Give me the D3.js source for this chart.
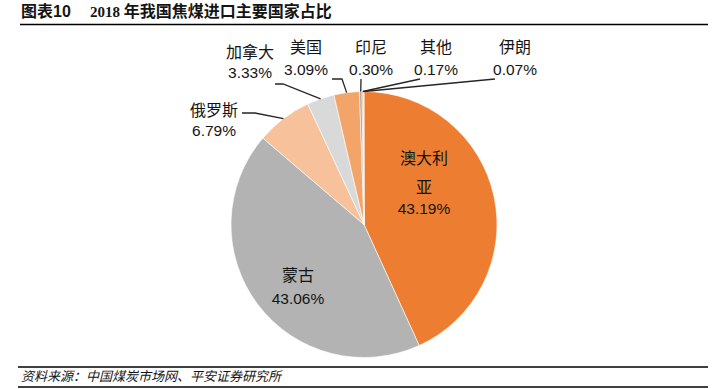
<!DOCTYPE html>
<html>
<head>
<meta charset="utf-8">
<script src="https://cdn.jsdelivr.net/npm/d3@7"></script>
<style>
  body { margin: 0; background: #fff; }
  text { font-family: "Liberation Sans", Arial, "Noto Sans CJK SC", sans-serif; fill: #141414; }
</style>
</head>
<body>
<svg></svg>
<script>
// Chart data, clockwise from 12 o'clock
let countries = ["澳大利亚", "蒙古", "俄罗斯", "加拿大", "美国", "印尼", "其他", "伊朗"];
let shares = [43.19, 43.06, 6.79, 3.33, 3.09, 0.30, 0.17, 0.07];
let sliceColors = ["#ED7D31", "#B3B3B3", "#F7C19B", "#D9D9D9", "#F2A469", "#A5A5A5", "#F4B183", "#BFBFBF"];

// Size of the SVG element
let width = 714,
    height = 389;

let cx = 364, cy = 224.5, radius = 133;

let svg = d3.select("svg")
    .attr("width", width)
    .attr("height", height);

// Title and rules
let title = svg.append("text")
    .attr("x", 21)
    .attr("y", 17)
    .style("font-weight", "bold")
    .style("font-size", "16px");
title.append("tspan").text("图表10");
title.append("tspan")
    .attr("x", 90)
    .style("font-family", "'Liberation Serif', 'Times New Roman', serif")
    .style("font-size", "15px")
    .text("2018 ");
title.append("tspan").text("年我国焦煤进口主要国家占比");

let rules = [24.5, 367, 387];
svg.selectAll("line.rule")
    .data(rules)
    .enter()
    .append("line")
    .attr("class", "rule")
    .attr("x1", (d, i) => i === 0 ? 20 : 18)
    .attr("x2", 708)
    .attr("y1", d => d)
    .attr("y2", d => d)
    .style("stroke", "#000")
    .style("stroke-width", 1.4);

svg.append("text")
    .attr("x", 21)
    .attr("y", 380.5)
    .style("font-size", "13px")
    .style("font-style", "italic")
    .text("资料来源：中国煤炭市场网、平安证券研究所");

// Pie
let pie = d3.pie()
    .sort(null)
    .value(d => d.value);

let arc = d3.arc()
    .innerRadius(0)
    .outerRadius(radius);

let arcs = pie(countries.map((c, i) => ({name: c, value: shares[i], color: sliceColors[i]})));

let g = svg.append("g")
    .attr("transform", "translate(" + cx + "," + cy + ")");

g.selectAll("path")
    .data(arcs)
    .enter()
    .append("path")
    .attr("d", arc)
    .style("fill", d => d.data.color)
    .style("stroke", "#fff")
    .style("stroke-width", 0.6);

// Label layout: inside labels for the big slices, leader lines for the rest
let fmt = v => v.toFixed(2) + "%";
let insideLabels = {
    "澳大利亚": {x: 424, lines: [["澳大利", 158], ["亚", 187], [null, 208]]},
    "蒙古": {x: 298, lines: [["蒙古", 275], [null, 298]]}
};
let outsideLabels = {
    "俄罗斯": {x: 214, y1: 110, y2: 130, path: [[242, 113], [255, 113]]},
    "加拿大": {x: 250, y1: 52, y2: 72, path: [[275, 84], [283, 84]]},
    "美国":   {x: 306, y1: 47, y2: 69.5, path: [[332, 79], [342, 79]]},
    "印尼":   {x: 371, y1: 47, y2: 69.5, path: [[361, 79]]},
    "其他":   {x: 436, y1: 47, y2: 69.5, path: [[420, 79]]},
    "伊朗":   {x: 515, y1: 47, y2: 69.5, path: [[495, 79]]}
};

let labels = svg.append("g")
    .style("font-size", "15.5px")
    .attr("text-anchor", "middle");

for (let d of arcs) {
    let inside = insideLabels[d.data.name];
    let outside = outsideLabels[d.data.name];
    if (inside) {
        for (let [txt, y] of inside.lines) {
            labels.append("text")
                .attr("x", inside.x)
                .attr("y", y)
                .attr("dy", "0.36em")
                .style("font-size", txt === null ? null : "16px")
                .text(txt === null ? fmt(d.data.value) : txt);
        }
    } else if (outside) {
        labels.append("text")
            .attr("x", outside.x)
            .attr("y", outside.y1)
            .attr("dy", "0.36em")
            .style("font-size", "16px")
            .text(d.data.name);
        labels.append("text")
            .attr("x", outside.x)
            .attr("y", outside.y2)
            .attr("dy", "0.36em")
            .text(fmt(d.data.value));

        // leader line ends on the slice edge at its middle angle
        let mid = (d.startAngle + d.endAngle) / 2;
        let edge = [cx + radius * Math.sin(mid), cy - radius * Math.cos(mid)];
        svg.append("path")
            .attr("d", d3.line()(outside.path.concat([edge])))
            .style("fill", "none")
            .style("stroke", "#262626")
            .style("stroke-width", 1.3);
    }
}
</script>
</body>
</html>
